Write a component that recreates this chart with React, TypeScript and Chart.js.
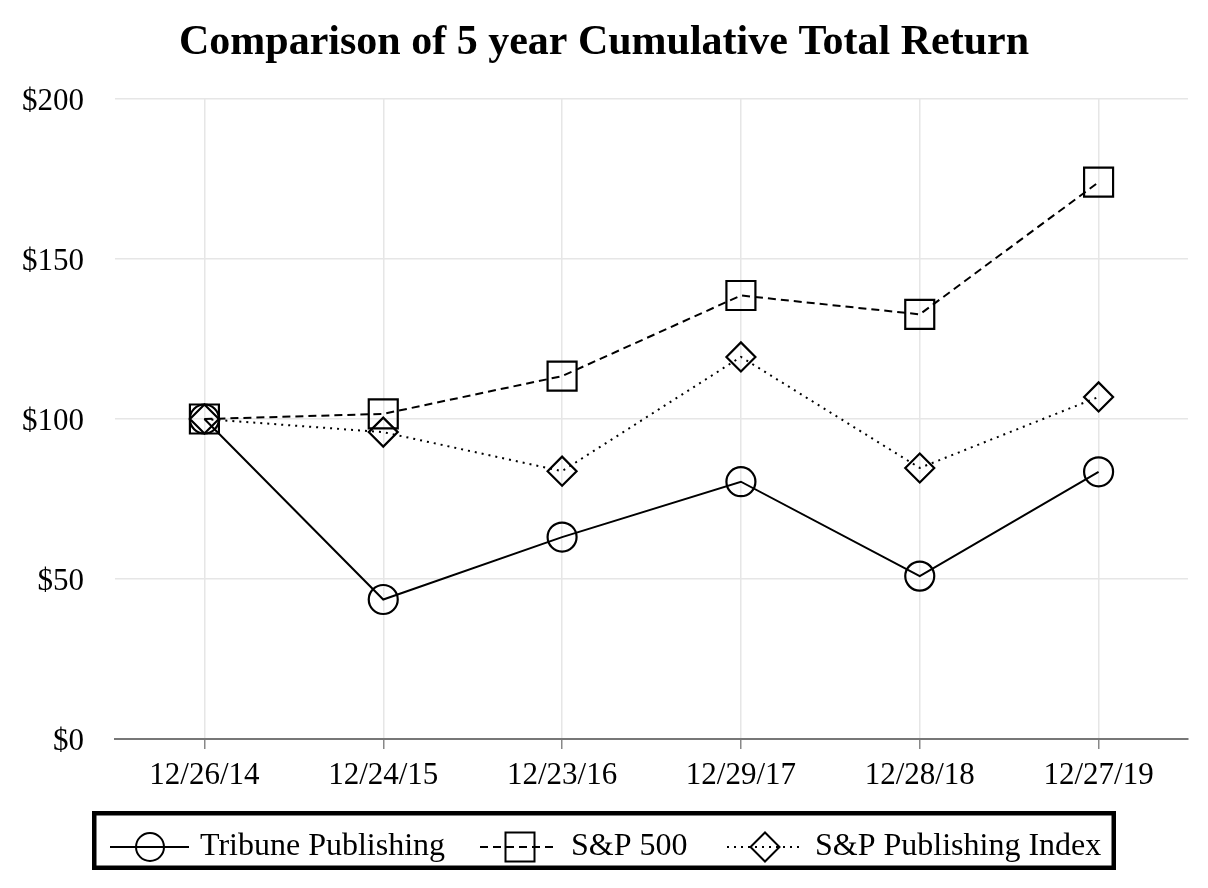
import React, { useEffect, useRef } from "react";
import { Chart, registerables } from "chart.js";

Chart.register(...registerables);

const categories = ["12/26/14", "12/24/15", "12/23/16", "12/29/17", "12/28/18", "12/27/19"];
const tribune = [100, 43.6, 63.1, 80.4, 50.9, 83.5];
const sp500 = [100, 101.6, 113.4, 138.6, 132.7, 174.0];
const spPublishing = [100, 95.9, 83.7, 119.4, 84.7, 106.9];
const yTicks = [0, 50, 100, 150, 200];
const seriesNames = ["Tribune Publishing", "S&P 500", "S&P Publishing Index"];
const titleText = "Comparison of 5 year Cumulative Total Return";

const FONT = '"Liberation Serif", "Times New Roman", serif';

type Shape = "circle" | "rect" | "rectRot";

function drawShape(ctx: CanvasRenderingContext2D, shape: Shape, x: number, y: number, h: number) {
  ctx.beginPath();
  if (shape === "circle") {
    ctx.arc(x, y, h, 0, Math.PI * 2);
  } else if (shape === "rect") {
    ctx.rect(x - h, y - h, 2 * h, 2 * h);
  } else {
    ctx.moveTo(x - h, y);
    ctx.lineTo(x, y - h);
    ctx.lineTo(x + h, y);
    ctx.lineTo(x, y + h);
    ctx.closePath();
  }
  ctx.stroke();
}

const legendItems: { shape: Shape; dash: number[]; x0: number; x1: number; cx: number; h: number; tx: number }[] = [
  { shape: "circle", dash: [], x0: 102, x1: 181, cx: 142, h: 14, tx: 192 },
  { shape: "rect", dash: [8, 5], x0: 472, x1: 550, cx: 512, h: 14.5, tx: 563 },
  { shape: "rectRot", dash: [2, 5], x0: 719, x1: 792, cx: 757, h: 14.5, tx: 807 },
];

const titleAndLegend = {
  id: "titleAndLegend",
  afterDraw(chart: any) {
    const ctx: CanvasRenderingContext2D = chart.ctx;
    ctx.save();
    // title
    ctx.fillStyle = "#000";
    ctx.font = `bold 42px ${FONT}`;
    ctx.textAlign = "center";
    ctx.textBaseline = "middle";
    ctx.fillText(titleText, chart.width / 2, 35.2);
    // legend box
    ctx.strokeStyle = "#000";
    ctx.lineWidth = 4.5;
    ctx.setLineDash([]);
    ctx.strokeRect(86.25, 805.25, 1019.5, 54.5);
    const ly = 839;
    legendItems.forEach((it, i) => {
      ctx.lineWidth = 2;
      ctx.setLineDash(it.dash);
      ctx.beginPath();
      ctx.moveTo(it.x0, ly);
      ctx.lineTo(it.x1, ly);
      ctx.stroke();
      ctx.setLineDash([]);
      drawShape(ctx, it.shape, it.cx, ly, it.h);
      ctx.fillStyle = "#000";
      ctx.font = `32px ${FONT}`;
      ctx.textAlign = "left";
      ctx.textBaseline = "alphabetic";
      ctx.fillText(seriesNames[i], it.tx, 847);
    });
    ctx.restore();
  },
};

export default function App() {
  const ref = useRef<HTMLCanvasElement | null>(null);

  useEffect(() => {
    if (!ref.current) return;
    const common = {
      borderColor: "#000",
      borderWidth: 2,
      pointBorderColor: "#000",
      pointBackgroundColor: "rgba(0,0,0,0)",
      pointBorderWidth: 2.2,
      fill: false,
      tension: 0,
    };
    const chart = new Chart(ref.current, {
      type: "line",
      data: {
        labels: categories,
        datasets: [
          { ...common, label: seriesNames[0], data: tribune, pointStyle: "circle", pointRadius: 14.5, pointHoverRadius: 14.5 },
          { ...common, label: seriesNames[1], data: sp500, pointStyle: "rect", pointRadius: 20.5, pointHoverRadius: 20.5, borderDash: [8, 5] },
          { ...common, label: seriesNames[2], data: spPublishing, pointStyle: "rectRot", pointRadius: 14.5, pointHoverRadius: 14.5, borderDash: [2, 5] },
        ],
      },
      options: {
        animation: false,
        responsive: false,
        devicePixelRatio: 1,
        events: [],
        layout: { autoPadding: false, padding: { left: 0, right: 12, top: 91, bottom: 81 } },
        plugins: {
          legend: { display: false },
          tooltip: { enabled: false },
          title: { display: false },
        },
        scales: {
          x: {
            offset: true,
            grid: { color: "#e6e6e6", lineWidth: 1.5, tickColor: "#888", tickLength: 10, drawTicks: true },
            border: { display: true, color: "#777", width: 2 },
            ticks: { color: "#000", font: { family: FONT, size: 31 }, padding: 8, maxRotation: 0, autoSkip: false },
            afterFit: (s: any) => {
              s.height = 60;
              s.paddingLeft = 0;
              s.paddingRight = 0;
            },
          },
          y: {
            min: 0,
            max: 200,
            grid: { color: "#e6e6e6", lineWidth: 1.5, drawTicks: false },
            border: { display: false },
            ticks: {
              color: "#000",
              font: { family: FONT, size: 31 },
              padding: 31,
              labelOffset: 3,
              callback: (v: any) => "$" + v,
            },
            afterBuildTicks: (s: any) => {
              s.ticks = yTicks.map((v) => ({ value: v }));
            },
            afterFit: (s: any) => {
              s.width = 107;
            },
          },
        },
      },
      plugins: [titleAndLegend],
    });
    return () => chart.destroy();
  }, []);

  return (
    <div style={{ width: 1192, height: 872 }}>
      <canvas ref={ref} width={1192} height={872} style={{ display: "block", width: 1192, height: 872 }} />
    </div>
  );
}
